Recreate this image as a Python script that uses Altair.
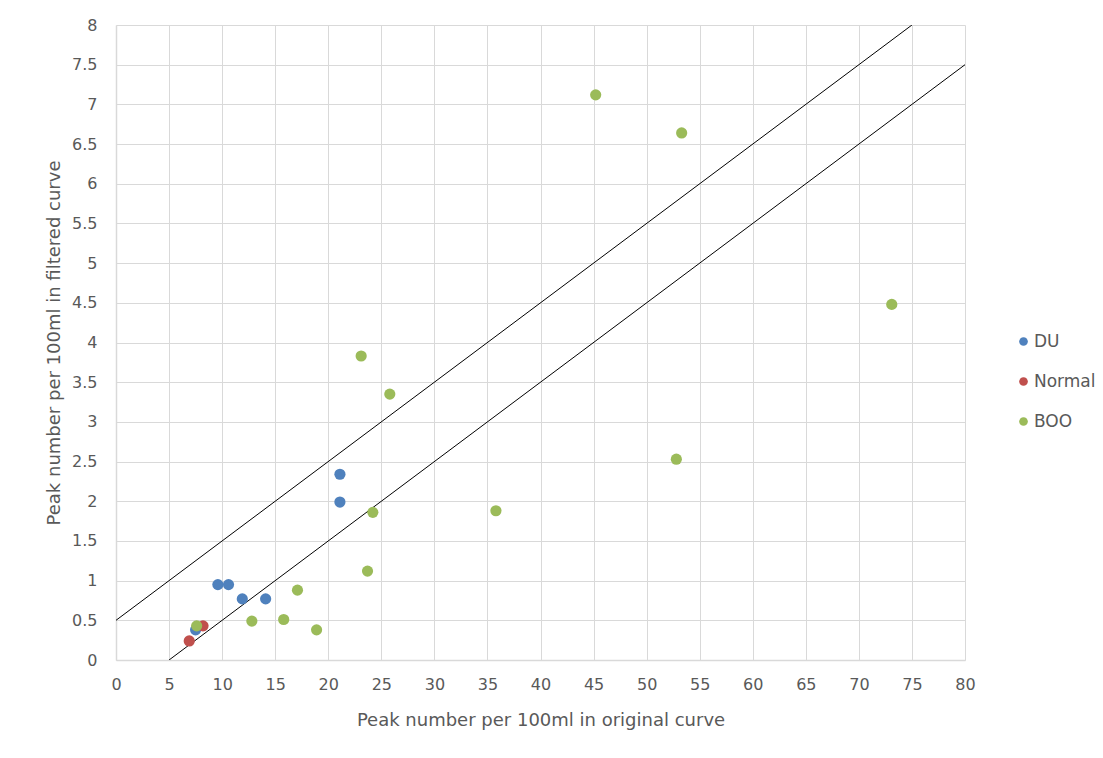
import altair as alt
import pandas as pd

du_x = [21.1, 21.1, 9.6, 10.6, 11.9, 14.1, 7.5]
du_y = [2.34, 1.99, 0.95, 0.95, 0.77, 0.77, 0.38]
normal_x = [8.2, 6.9]
normal_y = [0.43, 0.24]
boo_x = [24.2, 23.7, 17.1, 12.8, 15.8, 18.9, 7.6, 23.1, 25.8, 35.8, 45.2, 53.3, 73.1, 52.8]
boo_y = [1.86, 1.12, 0.88, 0.49, 0.51, 0.38, 0.43, 3.83, 3.35, 1.88, 7.12, 6.64, 4.48, 2.53]

series = ["DU", "Normal", "BOO"]
colors = ["#4F81BD", "#C0504D", "#9BBB59"]

line_name = ["upper", "upper", "lower", "lower"]
line_x = [0, 75, 5, 80]
line_y = [0.5, 8, 0, 7.5]

x_ticks = list(range(0, 81, 5))
y_ticks = [i * 0.5 for i in range(17)]

rows = []
for name, xs, ys in [("DU", du_x, du_y), ("Normal", normal_x, normal_y), ("BOO", boo_x, boo_y)]:
    for a, b in zip(xs, ys):
        rows.append({"series": name, "x": a, "y": b})
pts = pd.DataFrame(rows)
pts["order"] = range(len(pts))
lines = pd.DataFrame({"line": line_name, "x": line_x, "y": line_y})

FONT = "DejaVu Sans"
GRAY = "#595959"
GRID = "#D9D9D9"

xscale = alt.Scale(domain=[0, 80], nice=False, zero=False)
yscale = alt.Scale(domain=[0, 8], nice=False, zero=False)

common = dict(
    labelFontSize=16, labelColor=GRAY, titleFontSize=18, titleColor=GRAY,
    titleFontWeight="normal", grid=True, gridColor=GRID, domainColor=GRID,
    domainWidth=1.5, ticks=False, labelFont=FONT, titleFont=FONT,
    labelExpr="'' + datum.value", labelOverlap=False, labelFlush=False,
)
xaxis = alt.Axis(title="Peak number per 100ml in original curve", values=x_ticks,
                 labelPadding=16, titlePadding=19, **common)
yaxis = alt.Axis(title="Peak number per 100ml in filtered curve", values=y_ticks,
                 labelPadding=19, titlePadding=8, **common)

line_layer = alt.Chart(lines).mark_line(color="black", strokeWidth=1, clip=True).encode(
    x=alt.X("x:Q", scale=xscale, axis=xaxis),
    y=alt.Y("y:Q", scale=yscale, axis=yaxis),
    detail="line:N",
)

point_layer = alt.Chart(pts).mark_circle(size=125, opacity=1).encode(
    x=alt.X("x:Q", scale=xscale, axis=xaxis),
    y=alt.Y("y:Q", scale=yscale, axis=yaxis),
    color=alt.Color(
        "series:N",
        scale=alt.Scale(domain=series, range=colors),
        sort=series,
        legend=alt.Legend(
            title=None, orient="none", legendX=899, legendY=308,
            symbolType="circle", symbolSize=75, labelFontSize=17,
            labelColor=GRAY, labelFont=FONT, rowPadding=22, symbolOffset=0,
            labelOffset=2,
        ),
    ),
    order="order:Q",
)

chart = alt.layer(line_layer, point_layer).properties(
    width=849, height=635,
    autosize=alt.AutoSizeParams(type="none"),
    padding={"left": 108, "top": 17, "right": 130, "bottom": 90},
    background="white",
).configure_view(stroke=None)

chart.save("out.html", embed_options={"renderer": "svg", "actions": False})
